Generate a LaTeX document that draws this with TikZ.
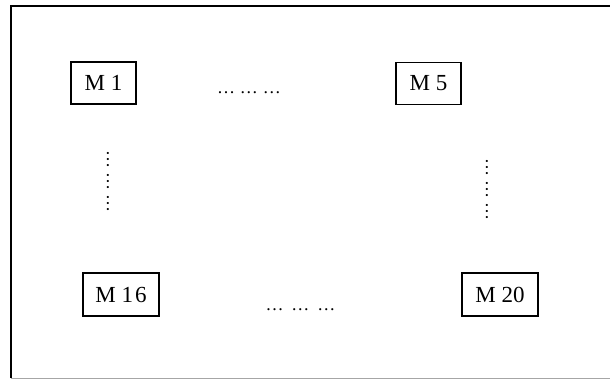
\documentclass[tikz,border=0pt]{standalone}
\usepackage{fontspec}
\setmainfont{Liberation Serif}
\begin{document}
\begin{tikzpicture}[x=1pt,y=-1pt,
  module/.style={draw, line width=1.3pt, minimum width=65pt, minimum height=42pt,
    inner sep=0pt, font=\fontsize{23}{26}\selectfont},
  wide/.style={module, minimum width=76pt, minimum height=43pt},
  dotrow/.style={inner sep=0pt, font=\fontsize{18}{22}\selectfont}]
  \useasboundingbox (0,0) rectangle (610,379);
  % frame: open on the right edge
  \coordinate (ftl) at (11,6);
  \coordinate (ftr) at (612,6);
  \coordinate (fbl) at (11,378);
  \coordinate (fbr) at (612,378);
  \draw[line width=1.7pt] (ftr) -- (ftl) -- (fbl);
  \draw[gray!70, line width=1pt] (fbl) -- (fbr);
  % modules
  \node[module] (m1) at (103.5,83) {M 1};
  \node[module] (m5) at (428.5,83.5) {M 5};
  \node[wide] (m16) at (121,294.5) {M 1\hspace{2pt}6};
  \node[wide] (m20) at (500,294.5) {M 20};
  % ellipses between the modules
  \node[dotrow] (top) at (249,92.5) {…\hspace{5pt}…\hspace{5pt}…};
  \node[dotrow] (bot) at (300.5,310) {…\hspace{8pt}…\hspace{8pt}…};
  \node[dotrow, rotate=-90] (left) at (108,182) {…\hspace{4pt}…\hspace{4pt}…};
  \node[dotrow, rotate=-90] (right) at (487,190) {…\hspace{4pt}…\hspace{4pt}…};
\end{tikzpicture}
\end{document}
